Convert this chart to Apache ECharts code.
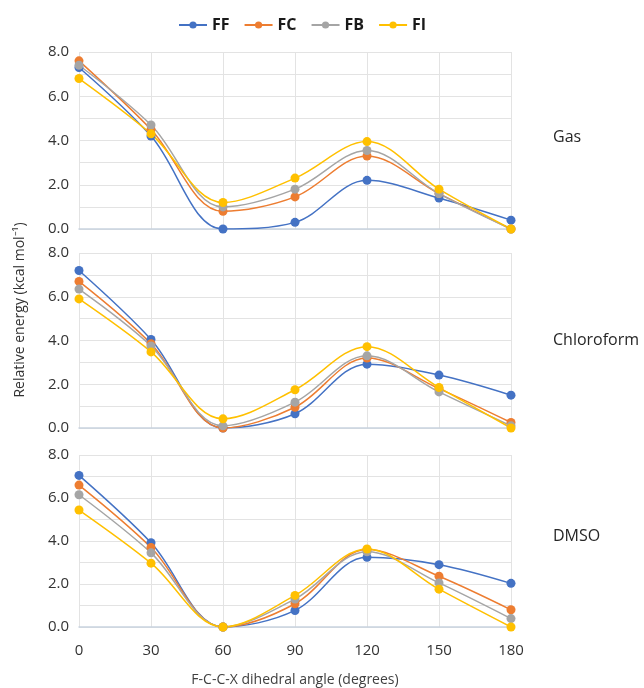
<!DOCTYPE html>
<html>
<head>
<meta charset="utf-8">
<script src="https://cdn.jsdelivr.net/npm/echarts@6/dist/echarts.min.js"></script>
<style>
  html, body { margin: 0; padding: 0; background: #fff; }
  #chart { width: 644px; height: 688px; }
</style>
</head>
<body>
<div id="chart"></div>
<script>
// dihedral angles (x axis)
var angles = [0, 30, 60, 90, 120, 150, 180];
var seriesNames = ['FF', 'FC', 'FB', 'FI'];
var colors = ['#4472C4', '#ED7D31', '#A5A5A5', '#FFC000'];
var panelNames = ['Gas', 'Chloroform', 'DMSO'];

// Gas
var gasFF = [7.3, 4.2, 0.0, 0.3, 2.2, 1.4, 0.4];
var gasFC = [7.6, 4.5, 0.8, 1.45, 3.3, 1.6, 0.0];
var gasFB = [7.4, 4.7, 1.0, 1.8, 3.55, 1.6, 0.0];
var gasFI = [6.8, 4.3, 1.2, 2.3, 3.95, 1.8, 0.0];

// Chloroform
var chlFF = [7.2, 4.05, 0.0, 0.65, 2.92, 2.42, 1.5];
var chlFC = [6.7, 3.85, 0.0, 0.95, 3.2, 1.8, 0.25];
var chlFB = [6.35, 3.75, 0.1, 1.18, 3.3, 1.65, 0.1];
var chlFI = [5.9, 3.48, 0.42, 1.75, 3.72, 1.85, 0.0];

// DMSO
var dmsoFF = [7.05, 3.92, 0.0, 0.77, 3.24, 2.9, 2.03];
var dmsoFC = [6.6, 3.7, 0.0, 1.08, 3.6, 2.36, 0.8];
var dmsoFB = [6.15, 3.45, 0.0, 1.3, 3.5, 2.05, 0.39];
var dmsoFI = [5.44, 2.97, 0.0, 1.47, 3.63, 1.76, 0.0];

var panelData = [
    [gasFF, gasFC, gasFB, gasFI],
    [chlFF, chlFC, chlFB, chlFI],
    [dmsoFF, dmsoFC, dmsoFB, dmsoFI]
];

var myChart = echarts.init(document.getElementById('chart'));

var font = '"Open Sans", "Liberation Sans", sans-serif';
var grids = [
    {left: 79, right: 133, top: 52, height: 177},
    {left: 79, right: 133, top: 253, height: 175},
    {left: 79, right: 133, top: 455, height: 172}
];

var xAxes = [];
var yAxes = [];
var series = [];
var graphics = [];
var labelTops = [139, 342, 538];

for (var g = 0; g < 3; g++) {
    var last = (g == 2);
    xAxes.push({
        type: 'value',
        gridIndex: g,
        min: 0,
        max: 180,
        interval: 30,
        axisLine: {show: true, lineStyle: {color: '#c9d3e0', width: 1.5}},
        axisTick: {show: false},
        axisLabel: {show: last, color: '#333', fontSize: 15, fontFamily: font, margin: 16},
        splitLine: {show: true, lineStyle: {color: '#e3e3e3'}},
        name: last ? 'F-C-C-X dihedral angle (degrees)' : '',
        nameLocation: 'middle',
        nameGap: 46,
        nameTextStyle: {color: '#404040', fontSize: 14, fontFamily: font}
    });
    yAxes.push({
        type: 'value',
        gridIndex: g,
        min: 0,
        max: 8,
        interval: 1,
        axisLine: {show: false},
        axisTick: {show: false},
        axisLabel: {
            color: '#333', fontSize: 15, fontFamily: font, margin: 10,
            formatter: function (v) { return v % 2 == 0 ? v.toFixed(1) : ''; }
        },
        splitLine: {show: true, lineStyle: {color: '#e3e3e3'}}
    });
    for (var s = 0; s < 4; s++) {
        var pts = [];
        for (var i = 0; i < angles.length; i++) {
            pts.push([angles[i], panelData[g][s][i]]);
        }
        series.push({
            name: seriesNames[s],
            type: 'line',
            xAxisIndex: g,
            yAxisIndex: g,
            smooth: 0.35,
            symbol: 'circle',
            symbolSize: 9,
            color: colors[s],
            lineStyle: {width: 1.5},
            data: pts
        });
    }
    graphics.push({
        type: 'text',
        left: 553,
        top: labelTops[g] - 10,
        style: {text: panelNames[g], fill: '#262626', font: '16px ' + font}
    });
}

graphics.push({
    type: 'text',
    x: 20,
    y: 310,
    rotation: Math.PI / 2,
    style: {
        text: 'Relative energy (kcal mol⁻¹)',
        fill: '#333',
        font: '14px ' + font,
        align: 'center',
        verticalAlign: 'middle'
    }
});

var option = {
    animation: false,
    color: colors,
    legend: {
        data: seriesNames,
        top: 12,
        left: 173,
        itemWidth: 28,
        itemHeight: 9,
        itemGap: 14,
        textStyle: {color: '#1a1a1a', fontSize: 16, fontWeight: 'bold', fontFamily: font}
    },
    grid: grids,
    xAxis: xAxes,
    yAxis: yAxes,
    series: series,
    graphic: graphics
};

myChart.setOption(option);
</script>
</body>
</html>
